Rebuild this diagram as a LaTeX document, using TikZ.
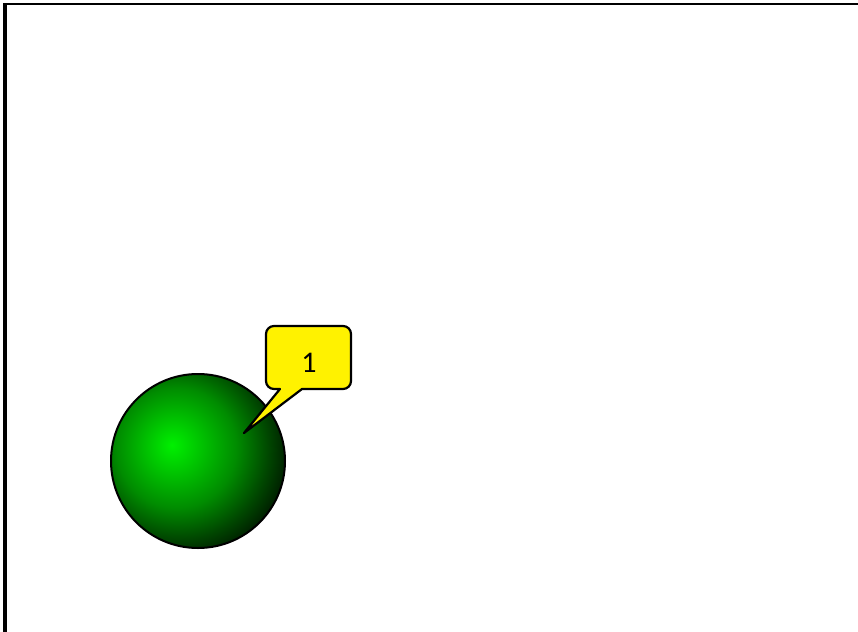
\documentclass[tikz,border=0pt]{standalone}
\usepackage{fontspec}
\setmainfont{Carlito}
\pgfdeclareradialshading{greenball}{\pgfpoint{-7.5bp}{4.6bp}}{%
  color(0bp)=(rgb,255:red,0;green,240;blue,0);
  color(8.6bp)=(rgb,255:red,0;green,190;blue,0);
  color(17.2bp)=(rgb,255:red,0;green,140;blue,0);
  color(25.9bp)=(rgb,255:red,0;green,70;blue,0);
  color(33.6bp)=(rgb,255:red,0;green,12;blue,0);
  color(38bp)=(rgb,255:red,0;green,0;blue,0);
  color(100bp)=(rgb,255:red,0;green,0;blue,0)}
\tikzset{
  leftline/.style={line width=3.5pt, black},
  topline/.style={line width=2.5pt, black},
  ballstyle/.style={circle, draw=black, line width=2pt, minimum size=174pt, inner sep=0pt, shading=greenball},
  calloutstyle/.style={draw=black, line width=2.2pt, fill=yellow, line join=round},
  labelstyle/.style={font=\fontsize{30}{30}\selectfont, inner sep=0pt}
}
\begin{document}
\begin{tikzpicture}[x=1pt,y=1pt]
\useasboundingbox (0,0) rectangle (858,-631);
\fill[white] (0,0) rectangle (858,-631);
\draw[leftline] (4.8,-640) -- (4.8,-2.8);
\draw[topline] (3,-3.8) -- (870,-3.8);
\node[ballstyle] (ball) at (198,-461) {};
\coordinate (tip) at (244,-433);
\draw[calloutstyle] (274,-326) -- (343,-326) arc[start angle=90, end angle=0, radius=8pt]
  -- (351,-381) arc[start angle=0, end angle=-90, radius=8pt]
  -- (302,-389) -- (tip) -- (280,-389) -- (274,-389)
  arc[start angle=270, end angle=180, radius=8pt]
  -- (266,-334) arc[start angle=180, end angle=90, radius=8pt] -- cycle;
\node[labelstyle] (lbl) at (309,-362.5) {1};
\end{tikzpicture}
\end{document}
